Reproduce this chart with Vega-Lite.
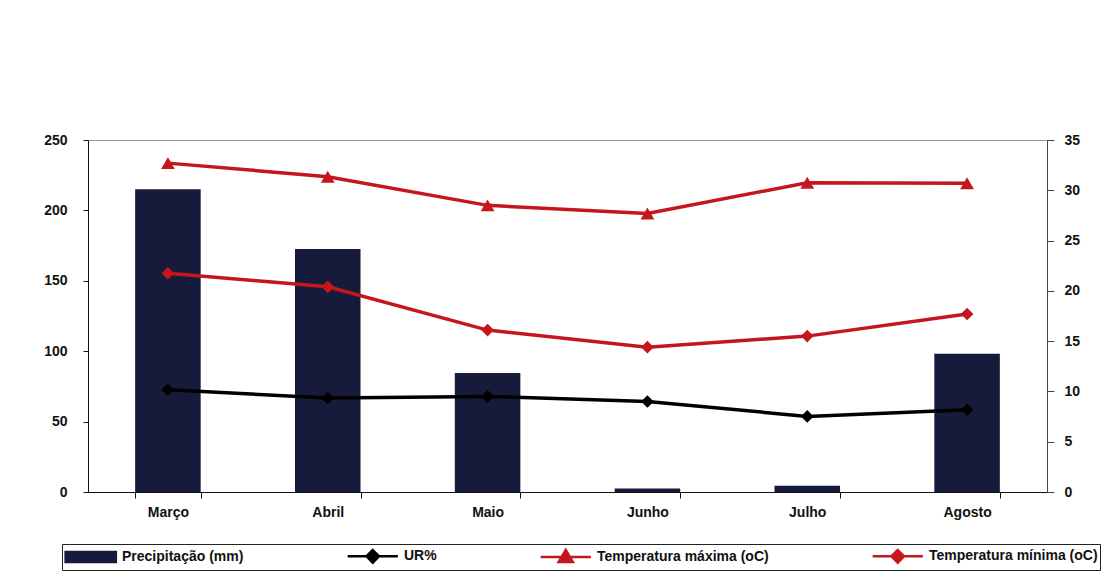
{
  "$schema": "https://vega.github.io/schema/vega-lite/v6.json",
  "autosize": {"type": "none"},
  "width": 959,
  "height": 352,
  "padding": {"left": 88, "top": 140, "right": 60, "bottom": 80},
  "background": "white",
  "config": {
    "view": {"stroke": "#9a9a9a", "strokeWidth": 1},
    "font": "Liberation Sans",
    "axis": {"labelFont": "Liberation Sans", "labelFontSize": 14, "labelFontWeight": "bold", "labelColor": "#111", "grid": false, "title": null, "domainColor": "#111", "tickColor": "#111"}
  },
  "data": {
    "values": [
      {"mes": "Março", "serie": "Precipitação (mm)", "valor": 215},
      {"mes": "Abril", "serie": "Precipitação (mm)", "valor": 172.6},
      {"mes": "Maio", "serie": "Precipitação (mm)", "valor": 84.5},
      {"mes": "Junho", "serie": "Precipitação (mm)", "valor": 2.5},
      {"mes": "Julho", "serie": "Precipitação (mm)", "valor": 4.5},
      {"mes": "Agosto", "serie": "Precipitação (mm)", "valor": 98.2},
      {"mes": "Março", "serie": "UR%", "valor": 72.6},
      {"mes": "Abril", "serie": "UR%", "valor": 66.7},
      {"mes": "Maio", "serie": "UR%", "valor": 67.9},
      {"mes": "Junho", "serie": "UR%", "valor": 64.3},
      {"mes": "Julho", "serie": "UR%", "valor": 53.7},
      {"mes": "Agosto", "serie": "UR%", "valor": 58.4},
      {"mes": "Março", "serie": "Temperatura máxima (oC)", "valor": 32.7},
      {"mes": "Abril", "serie": "Temperatura máxima (oC)", "valor": 31.35},
      {"mes": "Maio", "serie": "Temperatura máxima (oC)", "valor": 28.5},
      {"mes": "Junho", "serie": "Temperatura máxima (oC)", "valor": 27.7},
      {"mes": "Julho", "serie": "Temperatura máxima (oC)", "valor": 30.75},
      {"mes": "Agosto", "serie": "Temperatura máxima (oC)", "valor": 30.7},
      {"mes": "Março", "serie": "Temperatura mínima (oC)", "valor": 21.75},
      {"mes": "Abril", "serie": "Temperatura mínima (oC)", "valor": 20.4},
      {"mes": "Maio", "serie": "Temperatura mínima (oC)", "valor": 16.1},
      {"mes": "Junho", "serie": "Temperatura mínima (oC)", "valor": 14.4},
      {"mes": "Julho", "serie": "Temperatura mínima (oC)", "valor": 15.5},
      {"mes": "Agosto", "serie": "Temperatura mínima (oC)", "valor": 17.7}
    ]
  },
  "encoding": {
    "x": {
      "field": "mes", "type": "nominal",
      "sort": ["Março", "Abril", "Maio", "Junho", "Julho", "Agosto"],
      "scale": {"paddingInner": 0.59, "paddingOuter": 0.295},
      "axis": {"labelAngle": 0, "tickBand": "extent", "tickSize": 6, "labelPadding": 7}
    },
    "color": {
      "field": "serie", "type": "nominal",
      "scale": {
        "domain": ["Precipitação (mm)", "UR%", "Temperatura máxima (oC)", "Temperatura mínima (oC)"],
        "range": ["#161b3b", "#000000", "#c5161d", "#c5161d"]
      },
      "legend": {
        "title": null,
        "orient": "none",
        "direction": "horizontal",
        "legendX": -26,
        "legendY": 404,
        "strokeColor": "#222",
        "padding": 2,
        "symbolSize": 280,
        "symbolStrokeWidth": 2.5,
        "labelOffset": 38,
        "columnPadding": 98,
        "labelFont": "Liberation Sans",
        "labelFontSize": 14,
        "labelFontWeight": "bold",
        "labelColor": "#111",
        "labelLimit": 400,
        "encode": {
          "symbols": {
            "update": {
              "shape": {"signal": "datum.value === 'Precipitação (mm)' ? 'M-1,-0.6H5V0.6H-1Z' : datum.value === 'Temperatura máxima (oC)' ? 'M-1,0H5M2,-0.85L2.85,0.6L1.15,0.6Z' : 'M-1,0H5M2,-0.75L2.75,0L2,0.75L1.25,0Z'"},
              "fill": {"scale": "color", "field": "value"},
              "stroke": {"scale": "color", "field": "value"},
              "strokeWidth": {"value": 2.5},
              "opacity": {"value": 1},
              "fillOpacity": {"value": 1}
            }
          }
        }
      }
    }
  },
  "layer": [
    {
      "layer": [
        {
          "transform": [{"filter": "datum.serie === 'Precipitação (mm)'"}],
          "mark": {"type": "bar"},
          "encoding": {
            "y": {"field": "valor", "type": "quantitative", "scale": {"domain": [0, 250], "nice": false},
                  "axis": {"orient": "left", "values": [0, 50, 100, 150, 200, 250], "tickSize": 5, "labelPadding": 16}}
          }
        },
        {
          "transform": [{"filter": "datum.serie === 'UR%'"}],
          "mark": {"type": "line", "strokeWidth": 3.5},
          "encoding": {
            "y": {"field": "valor", "type": "quantitative"}
          }
        },
        {
          "transform": [{"filter": "datum.serie === 'UR%'"}],
          "mark": {"type": "point", "shape": "diamond", "filled": true, "size": 160, "opacity": 1},
          "encoding": {
            "y": {"field": "valor", "type": "quantitative"}
          }
        }
      ]
    },
    {
      "layer": [
        {
          "transform": [{"filter": "datum.serie !== 'Precipitação (mm)' && datum.serie !== 'UR%'"}],
          "mark": {"type": "line", "strokeWidth": 3.5},
          "encoding": {
            "detail": {"field": "serie"},
            "y": {"field": "valor", "type": "quantitative", "scale": {"domain": [0, 35], "nice": false},
                  "axis": {"orient": "right", "values": [0, 5, 10, 15, 20, 25, 30, 35], "tickSize": 7, "labelPadding": 10, "domainColor": "#444", "tickColor": "#444"}}
          }
        },
        {
          "transform": [{"filter": "datum.serie === 'Temperatura máxima (oC)'"}],
          "mark": {"type": "point", "shape": "triangle-up", "filled": true, "size": 190, "opacity": 1},
          "encoding": {
            "y": {"field": "valor", "type": "quantitative"}
          }
        },
        {
          "transform": [{"filter": "datum.serie === 'Temperatura mínima (oC)'"}],
          "mark": {"type": "point", "shape": "diamond", "filled": true, "size": 160, "opacity": 1},
          "encoding": {
            "y": {"field": "valor", "type": "quantitative"}
          }
        }
      ]
    }
  ],
  "resolve": {"scale": {"y": "independent"}}
}
